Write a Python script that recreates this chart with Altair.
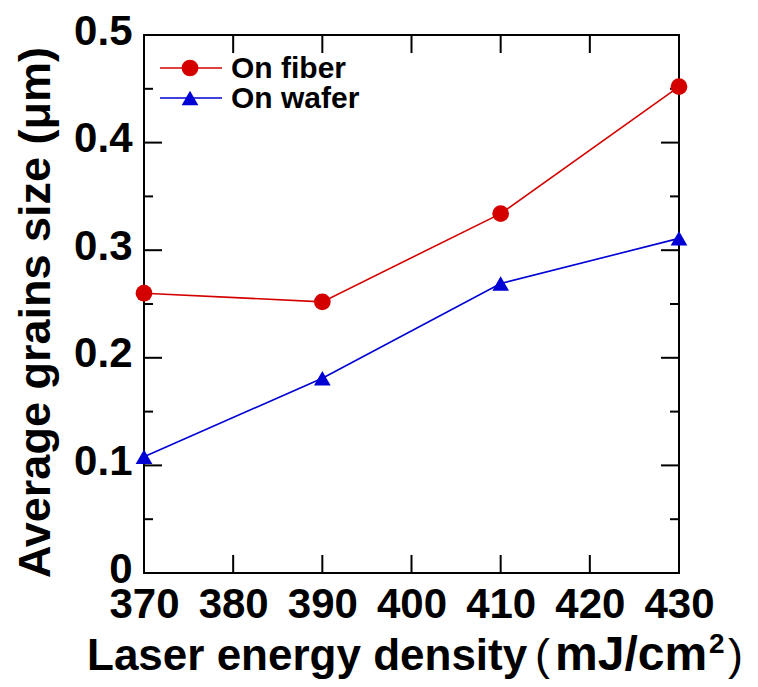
import altair as alt
import pandas as pd

# ---- data ----
energy = [370, 390, 410, 430]
on_fiber = [0.260, 0.252, 0.334, 0.452]
on_wafer = [0.108, 0.181, 0.269, 0.311]
series_names = ["On fiber", "On wafer"]
series_colors = ["#d40000", "#0000d4"]
series_shapes = ["circle", "triangle-up"]

x_ticks = [370, 380, 390, 400, 410, 420, 430]
y_major = [0.0, 0.1, 0.2, 0.3, 0.4, 0.5]
y_minor = [0.05, 0.15, 0.25, 0.35, 0.45]

x_title_parts = ["Laser energy density", "(", "mJ/cm", "2", ")"]
y_title = "Average grains size (μm)"

FONT = "Liberation Sans"
W, H = 535, 538

rows = []
for e, f, w in zip(energy, on_fiber, on_wafer):
    rows.append({"energy": e, "size": f, "series": series_names[0]})
    rows.append({"energy": e, "size": w, "series": series_names[1]})
df = pd.DataFrame(rows)

xs = alt.Scale(domain=[370, 430], nice=False, zero=False)
ys = alt.Scale(domain=[0, 0.5], nice=False, zero=False)
cs = alt.Scale(domain=series_names, range=series_colors)
ss = alt.Scale(domain=series_names, range=series_shapes)

x_axis = alt.Axis(
    values=x_ticks, ticks=False, domain=False, grid=False,
    labelFont=FONT, labelFontSize=42, labelFontWeight="bold", labelColor="black",
    labelPadding=11, labelFlush=False,
    title="",
)
y_axis = alt.Axis(
    values=y_major, ticks=False, domain=False, grid=False,
    labelFont=FONT, labelFontSize=42, labelFontWeight="bold", labelColor="black",
    labelPadding=12, labelFlush=False, labelOffset=-4,
    labelExpr="datum.value == 0 ? '0' : format(datum.value, '.1f')",
    title=y_title,
    titleFont=FONT, titleFontSize=45, titleFontWeight="bold", titleColor="black",
    titleX=-95, titleY=277, titleAngle=270, titleBaseline="alphabetic", titleAlign="center",
    titleAnchor="middle",
)

X = lambda f: alt.X(f, scale=xs, axis=x_axis)
Y = lambda f: alt.Y(f, scale=ys, axis=y_axis)

base = alt.Chart(df)
lines = base.mark_line(strokeWidth=1.6).encode(
    x=X("energy:Q"),
    y=Y("size:Q"),
    color=alt.Color("series:N", scale=cs, legend=None),
    detail="series:N",
)
points = base.mark_point(filled=True, opacity=1, size=280, clip=False).encode(
    x=X("energy:Q"),
    y=Y("size:Q"),
    color=alt.Color("series:N", scale=cs, legend=None),
    shape=alt.Shape("series:N", scale=ss, legend=None),
)

# ---- inward ticks on all four sides ----
xt = pd.DataFrame({"energy": x_ticks})
ymj = pd.DataFrame({"size": y_major})
ymn = pd.DataFrame({"size": y_minor})
tk = dict(color="black", strokeWidth=2)

tick_layers = [
    alt.Chart(xt).mark_rule(**tk).encode(x=X("energy:Q"), y=alt.value(H), y2=alt.value(H - 18)),
    alt.Chart(xt).mark_rule(**tk).encode(x=X("energy:Q"), y=alt.value(0), y2=alt.value(18)),
    alt.Chart(ymj).mark_rule(**tk).encode(y=Y("size:Q"), x=alt.value(0), x2=alt.value(18)),
    alt.Chart(ymj).mark_rule(**tk).encode(y=Y("size:Q"), x=alt.value(W), x2=alt.value(W - 18)),
    alt.Chart(ymn).mark_rule(**tk).encode(y=Y("size:Q"), x=alt.value(0), x2=alt.value(9)),
    alt.Chart(ymn).mark_rule(**tk).encode(y=Y("size:Q"), x=alt.value(W), x2=alt.value(W - 9)),
]

# ---- x axis title with a real superscript ----
def text_layer(txt, x, y, size, align, weight="bold"):
    return alt.Chart(pd.DataFrame({"t": [txt]})).mark_text(
        font=FONT, fontSize=size, fontWeight=weight, color="black",
        align=align, baseline="alphabetic").encode(
        x=alt.value(x), y=alt.value(y), text="t:N")

TB = 635  # title baseline (relative to plot top)
title_layers = [
    text_layer(x_title_parts[0], -57, TB, 44, "left"),
    text_layer(x_title_parts[1], 391, TB, 45, "left", weight="normal"),
    text_layer(x_title_parts[2], 411, TB, 48, "left"),
    text_layer(x_title_parts[3], 565, TB - 17, 28, "left"),
    text_layer(x_title_parts[4], 584, TB, 45, "left", weight="normal"),
]

# ---- legend (drawn by hand) ----
legend_layers = []
leg_y = [33, 63]
one = pd.DataFrame({"k": [0]})
for i, name in enumerate(series_names):
    ly = leg_y[i]
    legend_layers.append(
        alt.Chart(one).mark_rule(color=series_colors[i], strokeWidth=1.6).encode(
            x=alt.value(16), x2=alt.value(78), y=alt.value(ly))
    )
    legend_layers.append(
        alt.Chart(one).mark_point(filled=True, opacity=1, size=280, shape=series_shapes[i],
                                  color=series_colors[i]).encode(
            x=alt.value(46), y=alt.value(ly))
    )
    legend_layers.append(
        alt.Chart(pd.DataFrame({"label": [name]})).mark_text(
            font=FONT, fontSize=30, fontWeight="bold", color="black",
            align="left", baseline="middle").encode(
            x=alt.value(87), y=alt.value(ly + 1), text="label:N")
    )

chart = alt.layer(lines, *tick_layers, points, *legend_layers, *title_layers).properties(
    width=W, height=H,
    background="white",
    autosize=alt.AutoSizeParams(type="none"),
    padding={"left": 136, "top": 27, "right": 71, "bottom": 106},
).configure_view(stroke="black", strokeWidth=2)

chart.save("out.html", embed_options={"renderer": "svg", "actions": False})
